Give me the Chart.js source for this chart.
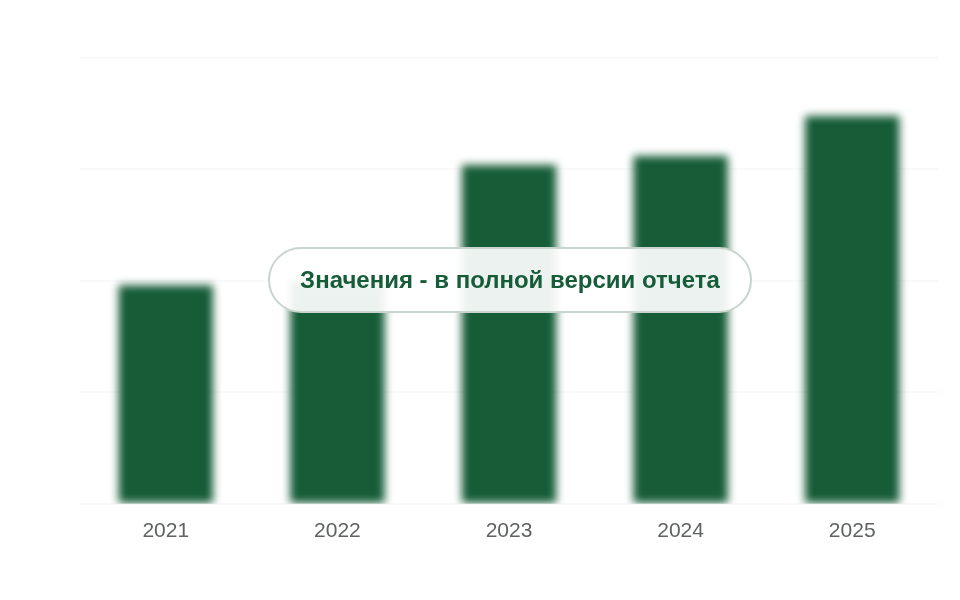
<!DOCTYPE html>
<html>
<head>
<meta charset="utf-8">
<script src="https://cdn.jsdelivr.net/npm/chart.js@4.4.1/dist/chart.umd.min.js"></script>
<style>
    html, body { margin: 0; padding: 0; background: #ffffff; }
    .wrap { position: relative; width: 960px; height: 600px; }
    .notice {
        position: absolute;
        left: 268px; top: 247px;
        width: 480px; height: 62px;
        border: 2px solid #c9d4cd;
        border-radius: 33px;
        background: rgba(255, 255, 255, 0.92);
        color: #165c38;
        font-family: "Liberation Sans", Arial, sans-serif;
        font-weight: bold;
        font-size: 24px;
        display: flex; align-items: center; justify-content: center;
    }
</style>
</head>
<body>
<div class="wrap">
    <canvas id="salesChart" width="960" height="600"></canvas>
    <div class="notice">Значения - в полной версии отчета</div>
</div>
<script>
// Chart data
const years = ["2021", "2022", "2023", "2024", "2025"];
const values = [49, 50, 76, 78, 87];
const yTicks = [0, 25, 50, 75, 100];

const BAR_GREEN = '#155c37';

// blur only the bars, like the teaser image
const blurBars = {
    id: 'blurBars',
    beforeDatasetsDraw(chart) {
        chart.ctx.save();
        chart.ctx.filter = 'blur(4px)';
    },
    afterDatasetsDraw(chart) {
        chart.ctx.restore();
    }
};

new Chart(document.getElementById('salesChart'), {
    type: 'bar',
    data: {
        labels: years,
        datasets: [{
            data: values,
            backgroundColor: BAR_GREEN,
            borderWidth: 0,
            barPercentage: 0.55,
            categoryPercentage: 1.0
        }]
    },
    options: {
        responsive: false,
        animation: false,
        layout: { padding: { top: 58, left: 80, right: 22, bottom: 49 } },
        plugins: {
            legend: { display: false },
            tooltip: { enabled: false }
        },
        scales: {
            x: {
                grid: { display: false },
                border: { display: false },
                ticks: {
                    color: '#5f6360',
                    padding: 7,
                    font: { family: "'Liberation Sans', Arial, sans-serif", size: 21 }
                }
            },
            y: {
                display: true,
                min: 0,
                max: 100,
                afterBuildTicks(axis) {
                    axis.ticks = yTicks.map(v => ({ value: v }));
                },
                ticks: { display: false },
                border: { display: false },
                grid: { color: 'rgba(0,0,0,0.022)', lineWidth: 2, drawTicks: false }
            }
        }
    },
    plugins: [blurBars]
});
</script>
</body>
</html>
